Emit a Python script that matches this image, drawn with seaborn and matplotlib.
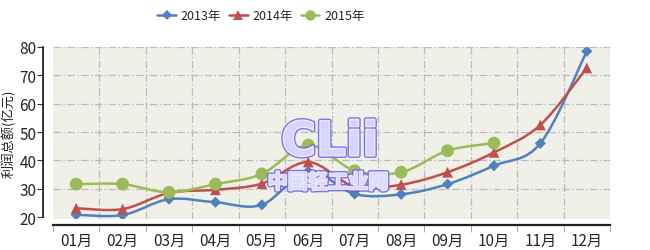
import numpy as np
import pandas as pd
import matplotlib
matplotlib.use("Agg")
import matplotlib.pyplot as plt
import seaborn as sns
from matplotlib.path import Path
from matplotlib.patches import PathPatch
from matplotlib.lines import Line2D
import matplotlib.patheffects as pe

# ---- data ----
months = ["01月", "02月", "03月", "04月", "05月", "06月", "07月", "08月", "09月", "10月", "11月", "12月"]
series_names = ["2013年", "2014年", "2015年"]
v2013 = [20.8, 20.7, 26.3, 25.2, 24.3, 36.0, 28.1, 28.0, 31.6, 38.1, 46.0, 78.5]
v2014 = [23.1, 22.8, 28.5, 29.6, 31.8, 39.4, 30.7, 31.4, 35.8, 42.8, 52.5, 72.6]
v2015 = [31.6, 31.6, 28.7, 31.6, 35.2, 45.4, 36.3, 35.8, 43.4, 46.1]
yticks = [20, 30, 40, 50, 60, 70, 80]
ylabel = "利润总额(亿元)"

colors = ["#4F81BD", "#C0504D", "#9BBB59"]
markers = ["D", "^", "o"]
msizes = [32, 60, 85]

sns.set_theme(style="white")
plt.rcParams["font.family"] = ["Noto Sans CJK SC", "DejaVu Sans"]

rows = []
for name, vals in zip(series_names, [v2013, v2014, v2015]):
    for i, v in enumerate(vals):
        rows.append({"pos": i, "month": months[i], "value": v, "series": name})
df = pd.DataFrame(rows)

fig = plt.figure(figsize=(6.5, 2.51), dpi=100)
ax = fig.add_axes([53 / 650, 1 - 220 / 251, (610 - 53) / 650, (220 - 48) / 251])
ax.set_facecolor("#F0F0E9")


def smooth_path(xs, ys):
    pts = np.column_stack([xs, ys]).astype(float)
    n = len(pts)
    verts = [pts[0]]
    codes = [Path.MOVETO]
    for i in range(n - 1):
        p0 = pts[i - 1] if i > 0 else pts[i]
        p1 = pts[i]
        p2 = pts[i + 1]
        p3 = pts[i + 2] if i + 2 < n else pts[i + 1]
        c1 = p1 + (p2 - p0) / 6.0
        c2 = p2 - (p3 - p1) / 6.0
        verts += [c1, c2, p2]
        codes += [Path.CURVE4] * 3
    return Path(verts, codes)


for name, col in zip(series_names, colors):
    sub = df[df["series"] == name]
    path = smooth_path(sub["pos"].values, sub["value"].values)
    ax.add_patch(PathPatch(path, facecolor="none", edgecolor=col, lw=1.8, zorder=3))

sns.scatterplot(data=df, x="pos", y="value", hue="series", style="series",
                palette=dict(zip(series_names, colors)),
                markers=dict(zip(series_names, markers)),
                size="series", sizes=dict(zip(series_names, msizes)),
                edgecolor="none", linewidth=0, ax=ax, legend=False, zorder=4)

ax.set_xlim(-0.5, 11.5)
ax.set_ylim(19.3, 80)
ax.set_xlabel("")
ax.set_ylabel(ylabel, fontsize=9.5, color="#222222")
ax.yaxis.set_label_coords((16 - 53) / 557, 0.5)

# grid
for yv in yticks[1:]:
    ax.axhline(yv, color="#BBBBBB", lw=0.9, ls=(0, (6, 2, 1, 2)), zorder=1)
for k in range(1, 13):
    ax.axvline(-0.5 + k, color="#BBBBBB", lw=0.9, ls=(0, (6, 2, 1, 2)), zorder=1)

ax.set_yticks(yticks)
ax.set_yticklabels([str(t) for t in yticks], fontsize=9.5, color="#222222")
ax.set_xticks(range(12))
ax.set_xticklabels(months, fontsize=8.5, color="#222222")
ax.set_xticks(np.arange(-0.5, 12.0, 1.0), minor=True)
ax.tick_params(axis="x", which="major", length=0, pad=5)
ax.tick_params(axis="x", which="minor", length=5, width=0.7, color="#AAAAAA", direction="out", bottom=True)
ax.tick_params(axis="y", which="major", length=4.5, width=0.8, color="#333333", direction="out", left=True, pad=0.5)

for s in ["top", "right"]:
    ax.spines[s].set_visible(False)
ax.spines["left"].set_position(("outward", 7))
ax.spines["left"].set_bounds(20, 80)
ax.spines["left"].set_color("#111111")
ax.spines["left"].set_linewidth(1.2)
ax.spines["bottom"].set_position(("outward", 4))
ax.spines["bottom"].set_color("#222222")
ax.spines["bottom"].set_linewidth(1.6)

# legend
handles = [Line2D([0], [0], color=c, lw=1.8, marker=m, markersize=s, markeredgewidth=0)
           for c, m, s in zip(colors, markers, [5, 6.5, 7.5])]
fig.legend(handles, series_names, loc="center", bbox_to_anchor=(261 / 650, 1 - 17 / 251),
           ncol=3, frameon=False, fontsize=9, handlelength=1.5, handletextpad=0.4,
           columnspacing=0.6)

# watermark
fx = [pe.Stroke(linewidth=3.5, foreground="#6A5CF0"), pe.Stroke(linewidth=1.5, foreground="white"), pe.Normal()]
fig.text(330 / 650, 1 - 144 / 251, "CLii", fontsize=34, fontweight="bold", family="DejaVu Sans",
         color="#D8D6FF", alpha=0.85, ha="center", va="center", path_effects=fx, zorder=10)
fig.text(328 / 650, 1 - 183 / 251, "中国轻工业网", fontsize=14.5, fontweight="bold",
         color="#D8D6FF", alpha=0.85, ha="center", va="center", path_effects=fx, zorder=10)

fig.savefig("out.png", dpi=100)
